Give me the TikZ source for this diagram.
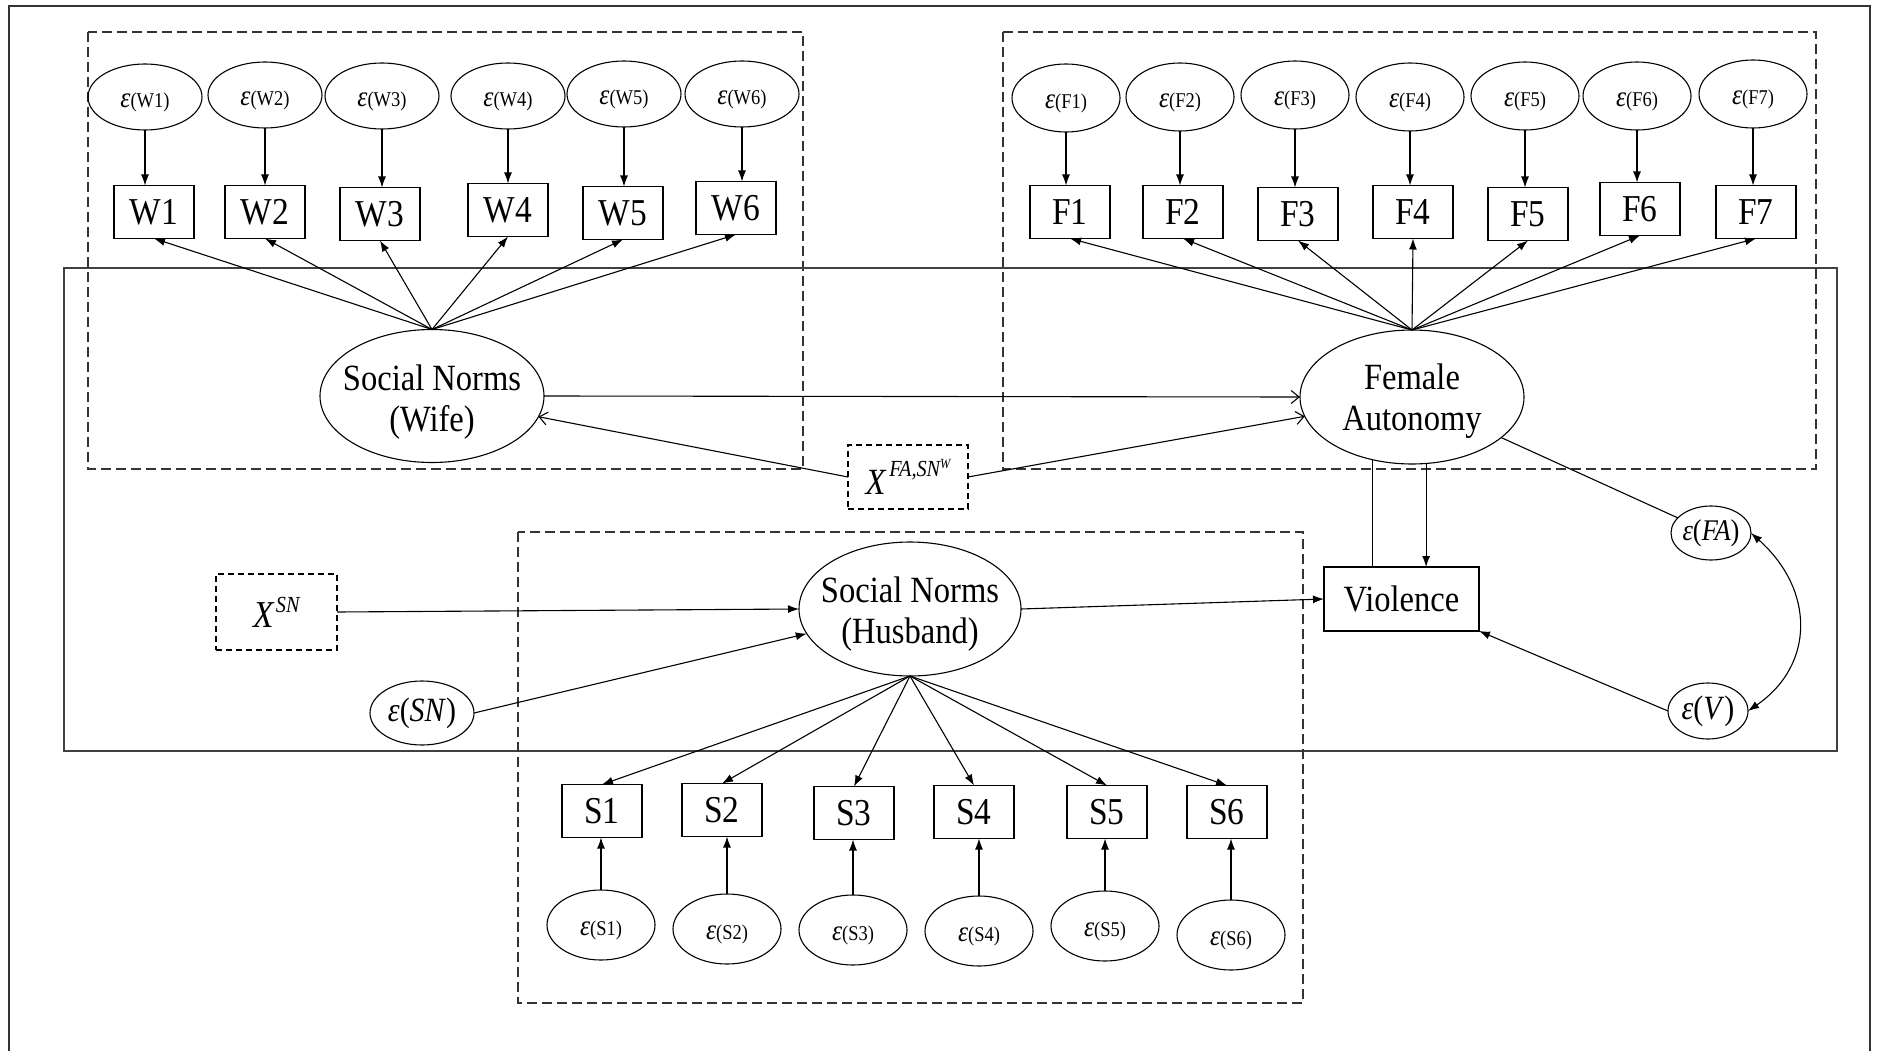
\documentclass[tikz,border=0pt]{standalone}
\usepackage{fontspec}
\setmainfont{Liberation Serif}[FakeStretch=0.88]
\usetikzlibrary{shapes.geometric,arrows.meta}
\newcommand\ep[1]{{\fontsize{29}{29}\selectfont\itshape ε}{\fontsize{21}{21}\selectfont(#1)}}
\tikzset{
  every node/.style={inner sep=0pt, outer sep=0pt},
  obs/.style={draw, rectangle, minimum width=80pt, minimum height=53pt, line width=1.3pt, font=\fontsize{38}{38}\selectfont},
  errW/.style={draw, ellipse, minimum width=114pt, minimum height=66pt, line width=1.1pt},
  errF/.style={draw, ellipse, minimum width=108pt, minimum height=68pt, line width=1.1pt},
  errS/.style={draw, ellipse, minimum width=108pt, minimum height=70pt, line width=1.1pt},
  errR/.style={draw, ellipse, line width=1.1pt},
  eptext/.style={yshift=-5pt},
  lat/.style={draw, ellipse, line width=1.1pt},
  lattext/.style={align=center, font=\fontsize{37}{41}\selectfont, yshift=-6pt},
  arr/.style={-{Latex[length=11pt,width=8pt]}, line width=1.1pt},
  barb/.style={-{Straight Barb[length=8pt,width=13pt]}, line width=1.1pt},
  plain/.style={line width=1.1pt},
  dbox/.style={draw, dash pattern=on 10pt off 5pt, line width=1.2pt, black!80},
  xbox/.style={draw, dash pattern=on 6pt off 4pt, line width=1.2pt},
  frame/.style={line width=2pt, black!80},
  sbox/.style={line width=1.6pt, black!75},
}
\begin{document}
\begin{tikzpicture}[x=1pt,y=-1pt]
\fill[white] (0,0) rectangle (1881,1051);
\useasboundingbox (0,0) rectangle (1881,1051);

% frames
\draw[frame] (9,1051) -- (9,6) -- (1870,6) -- (1870,1051);
\draw[dbox] (88,32) rectangle (803,469);
\draw[dbox] (1003,32) rectangle (1816,469);
\draw[sbox] (64,268) rectangle (1837,751);
\draw[dbox] (518,532) rectangle (1303,1003);

% wife block
\foreach \i/\x/\y in {1/145/97, 2/265/95, 3/382/96, 4/508/96, 5/624/94, 6/742/94}
  \node[errW, label={[eptext]center:\ep{W\i}}] (eW\i) at (\x,\y) {};
\foreach \i/\x/\y in {1/154/212, 2/265/212, 3/380/214, 4/508/210, 5/623/213, 6/736/208}
  \node[obs] (W\i) at (\x,\y) {W\i};
\node[lat, minimum width=224pt, minimum height=133pt,
      label={[lattext]center:Social Norms\\(Wife)}] (SNW) at (432,396) {};

% female autonomy block
\foreach \i/\x/\y in {1/1066/98, 2/1180/97, 3/1295/95, 4/1410/97, 5/1525/96, 6/1637/96, 7/1753/94}
  \node[errF, label={[eptext]center:\ep{F\i}}] (eF\i) at (\x,\y) {};
\foreach \i/\x/\y in {1/1070/212, 2/1183/212, 3/1298/214, 4/1413/212, 5/1528/214, 6/1640/209, 7/1756/212}
  \node[obs] (F\i) at (\x,\y) {F\i};
\node[lat, minimum width=224pt, minimum height=134pt,
      label={[lattext, yshift=2pt]center:Female\\Autonomy}] (FA) at (1412,397) {};

% exogenous boxes
\node[xbox, minimum width=120pt, minimum height=64pt] (XFA) at (908,477)
  {{\fontsize{37}{37}\selectfont\itshape X}\kern4pt\raisebox{18pt}{\fontsize{23}{23}\selectfont\itshape FA,SN\raisebox{8pt}{\fontsize{14}{14}\selectfont W}}};
\node[xbox, minimum width=121pt, minimum height=76pt] (XSN) at (276.5,612)
  {{\fontsize{38}{38}\selectfont\itshape X}\kern2pt\raisebox{15pt}{\fontsize{23}{23}\selectfont\itshape SN}};

% violence and errors
\node[obs, minimum width=155pt, minimum height=64pt] (Viol) at (1401.5,599) {\fontsize{37}{37}\selectfont Violence};
\node[errR, minimum width=80pt, minimum height=54pt,
      label={center:{\fontsize{30}{30}\selectfont\itshape ε}{\fontsize{30}{30}\selectfont(\textit{FA})}}] (eFA) at (1711,533) {};
\node[errR, minimum width=80pt, minimum height=56pt,
      label={center:{\fontsize{34}{34}\selectfont\itshape ε}{\fontsize{34}{34}\selectfont(\textit{V})}}] (eV) at (1708,711) {};
\node[errR, minimum width=104pt, minimum height=64pt,
      label={center:{\fontsize{34}{34}\selectfont\itshape ε}{\fontsize{34}{34}\selectfont(\textit{SN})}}] (eSN) at (422,713) {};

% husband block
\node[lat, minimum width=222pt, minimum height=134pt,
      label={[lattext, yshift=1pt]center:Social Norms\\(Husband)}] (SNH) at (910,609) {};
\foreach \i/\x/\y in {1/602/811, 2/722/810, 3/854/813, 4/974/812, 5/1107/812, 6/1227/812}
  \node[obs] (S\i) at (\x,\y) {S\i};
\foreach \i/\x/\y in {1/601/925, 2/727/929, 3/853/930, 4/979/931, 5/1105/926, 6/1231/935}
  \node[errS, label={[eptext]center:\ep{S\i}}] (eS\i) at (\x,\y) {};

% connectors: wife
\foreach \i in {1,...,6} {
  \draw[arr] (eW\i.south) -- (eW\i.south |- W\i.north);
  \draw[arr] (SNW.north) -- (W\i.south);
}
% connectors: female autonomy
\foreach \i in {1,...,7} {
  \draw[arr] (eF\i.south) -- (eF\i.south |- F\i.north);
  \draw[arr] (FA.north) -- (F\i.south);
}
% connectors: husband
\foreach \i in {1,...,6} {
  \draw[arr] (eS\i.north) -- (eS\i.north |- S\i.south);
  \draw[arr] (SNH.south) -- (S\i.north);
}

\draw[barb] (SNW.east) -- (FA.west);
\draw[barb] (XFA.west) -- (SNW);
\draw[barb] (XFA.east) -- (FA);
\draw[plain] (FA.238) -- (FA.238 |- Viol.north);
\draw[arr] (FA.282) -- (FA.282 |- Viol.north);
\draw[plain] (FA) -- (eFA);
\draw[arr] (eV.west) -- (Viol.south east);
\draw[arr] (XSN.east) -- (SNH.west);
\draw[arr] (eSN.east) -- (SNH);
\draw[arr] (SNH.east) -- (Viol.west);
\draw[{Latex[length=11pt,width=8pt]}-{Latex[length=11pt,width=8pt]}, line width=1.1pt]
  (eFA.east) .. controls (1815,590) and (1815,665) .. (eV.east);
\end{tikzpicture}
\end{document}
